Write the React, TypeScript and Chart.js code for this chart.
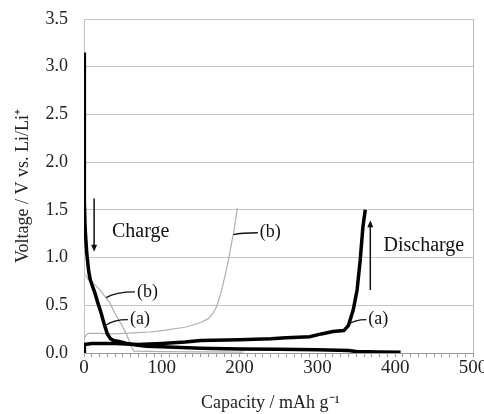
import React, { useEffect, useRef } from "react";
import { Chart, registerables } from "chart.js";
Chart.register(...registerables);

// ---- Data (capacity in mAh/g, voltage in V) ----
const chargeACap = [0, 0.3, 0.6, 1.5, 3.5, 6, 8, 10, 14, 18, 22, 26, 30, 34, 38, 45, 55, 65, 80, 100, 150, 200, 250, 300, 340, 350, 380, 407];
const chargeAV = [3.15, 2.0, 1.58, 1.3, 1.05, 0.86, 0.77, 0.72, 0.63, 0.52, 0.42, 0.3, 0.2, 0.15, 0.13, 0.12, 0.1, 0.085, 0.07, 0.065, 0.05, 0.042, 0.038, 0.033, 0.025, 0.015, 0.01, 0.008];

const dischargeACap = [0, 0.5, 10, 40, 70, 100, 130, 150, 200, 240, 260, 290, 305, 320, 334, 340, 346, 351, 355, 358.5, 361.5];
const dischargeAV = [0, 0.09, 0.1, 0.1, 0.09, 0.1, 0.115, 0.13, 0.14, 0.15, 0.16, 0.17, 0.2, 0.225, 0.235, 0.29, 0.45, 0.66, 0.97, 1.32, 1.5];

const chargeBCap = [2, 5.6, 10, 20.6, 29, 33.5, 42, 48, 55, 61, 64, 100, 150, 205];
const chargeBV = [0.82, 0.77, 0.75, 0.66, 0.57, 0.52, 0.38, 0.3, 0.19, 0.06, 0.02, 0.015, 0.012, 0.01];

const dischargeBCap = [0, 3, 6, 20, 40, 63, 85, 100, 130, 150, 160, 166, 170, 173, 176, 179, 183, 186, 189, 192, 195, 197];
const dischargeBV = [0.15, 0.19, 0.205, 0.205, 0.2, 0.21, 0.22, 0.235, 0.27, 0.32, 0.36, 0.42, 0.48, 0.55, 0.63, 0.73, 0.87, 0.99, 1.12, 1.25, 1.4, 1.52];

const xMin = 0, xMax = 500, xStep = 10, xLabelStep = 100;
const yMin = 0, yMax = 3.5, yStep = 0.5;

const xTitle = "Capacity / mAh g\u207B\u00B9";
const yTitle = "Voltage / V vs. Li/Li\u207A";

// annotation texts: [text, capacity, voltage]
const bigTexts = [
  { text: "Charge", cap: 36, v: 1.27 },
  { text: "Discharge", cap: 385, v: 1.12 },
];
const curveLabels = [
  { text: "(b)", cap: 226, v: 1.26, fromCap: 192, fromV: 1.24 },
  { text: "(b)", cap: 68, v: 0.64, fromCap: 28.5, fromV: 0.58 },
  { text: "(a)", cap: 59, v: 0.35, fromCap: 28, fromV: 0.29 },
  { text: "(a)", cap: 365.5, v: 0.35, fromCap: 338.5, fromV: 0.29 },
];
const arrows = [
  { cap: 13, v0: 1.62, v1: 1.06 },
  { cap: 368, v0: 0.66, v1: 1.39 },
];

const FONT = '"Liberation Serif", "Times New Roman", serif';

function pts(xs: number[], ys: number[]) {
  return xs.map((x, i) => ({ x, y: ys[i] }));
}

const annotPlugin = {
  id: "annot",
  afterDatasetsDraw(chart: any) {
    const { ctx, chartArea } = chart;
    const xs = chart.scales.x;
    const ys = chart.scales.y;
    ctx.save();
    // right border
    ctx.strokeStyle = "#bdbdbd";
    ctx.lineWidth = 1;
    ctx.beginPath();
    ctx.moveTo(Math.round(chartArea.right) + 0.5, chartArea.top);
    ctx.lineTo(Math.round(chartArea.right) + 0.5, chartArea.bottom);
    ctx.stroke();

    // x axis title
    ctx.fillStyle = "#222";
    ctx.font = `18px ${FONT}`;
    ctx.textAlign = "center";
    ctx.textBaseline = "middle";
    ctx.fillText(xTitle, (chartArea.left + chartArea.right) / 2 - 8, chart.height - 11);

    ctx.fillStyle = "#111";
    ctx.textBaseline = "middle";
    ctx.textAlign = "left";
    ctx.font = `20px ${FONT}`;
    for (const t of bigTexts) {
      ctx.fillText(t.text, xs.getPixelForValue(t.cap), ys.getPixelForValue(t.v));
    }
    ctx.font = `18px ${FONT}`;
    ctx.strokeStyle = "#111";
    ctx.lineWidth = 1.3;
    for (const l of curveLabels) {
      const tx = xs.getPixelForValue(l.cap);
      const ty = ys.getPixelForValue(l.v);
      const fx = xs.getPixelForValue(l.fromCap);
      const fy = ys.getPixelForValue(l.fromV);
      ctx.beginPath();
      ctx.moveTo(fx, fy);
      ctx.quadraticCurveTo(fx + (tx - fx) * 0.3, ty, tx - 2, ty);
      ctx.stroke();
      ctx.fillText(l.text, tx, ty);
    }
    // arrows
    ctx.lineWidth = 1.5;
    for (const a of arrows) {
      const x = xs.getPixelForValue(a.cap);
      const y0 = ys.getPixelForValue(a.v0);
      const y1 = ys.getPixelForValue(a.v1);
      const dir = y1 > y0 ? 1 : -1;
      ctx.beginPath();
      ctx.moveTo(x, y0);
      ctx.lineTo(x, y1 - dir * 5);
      ctx.stroke();
      ctx.beginPath();
      ctx.moveTo(x, y1);
      ctx.lineTo(x - 3, y1 - dir * 7);
      ctx.lineTo(x + 3, y1 - dir * 7);
      ctx.closePath();
      ctx.fill();
    }
    ctx.restore();
  },
};

export default function App() {
  const ref = useRef<HTMLCanvasElement>(null);
  useEffect(() => {
    if (!ref.current) return;
    const black = { borderColor: "#000", borderWidth: 3.5, pointRadius: 0, tension: 0, fill: false };
    const gray = { borderColor: "#b0b0b0", borderWidth: 1.2, pointRadius: 0, tension: 0, fill: false };
    const chart = new Chart(ref.current, {
      type: "line",
      data: {
        datasets: [
          { label: "charge a", data: pts(chargeACap, chargeAV), ...black },
          { label: "discharge a", data: pts(dischargeACap, dischargeAV), ...black },
          { label: "charge b", data: pts(chargeBCap, chargeBV), ...gray },
          { label: "discharge b", data: pts(dischargeBCap, dischargeBV), ...gray },
        ],
      },
      options: {
        animation: false,
        responsive: false,
        devicePixelRatio: 1,
        layout: { padding: { left: 0, top: 19, right: 11, bottom: 0 } },
        plugins: { legend: { display: false }, tooltip: { enabled: false } },
        scales: {
          x: {
            type: "linear",
            min: xMin,
            max: xMax,
            afterFit: (s: any) => {
              s.height = 61;
              s.paddingRight = 0;
              s.paddingLeft = 0;
            },
            ticks: {
              stepSize: xStep,
              autoSkip: false,
              maxRotation: 0,
              padding: 0,
              color: "#222",
              font: { family: FONT, size: 19 },
              callback: (v: any) => (Number(v) % xLabelStep === 0 ? String(v) : ""),
            },
            grid: { drawOnChartArea: false, drawTicks: true, tickLength: 4, color: "#9a9a9a" },
            border: { display: true, color: "#9a9a9a" },
            title: { display: false },
          },
          y: {
            type: "linear",
            min: yMin,
            max: yMax,
            afterFit: (s: any) => {
              s.width = 84;
              s.paddingTop = 0;
              s.paddingBottom = 0;
            },
            ticks: {
              stepSize: yStep,
              padding: 16,
              color: "#222",
              font: { family: FONT, size: 18 },
              callback: (v: any) => Number(v).toFixed(1),
            },
            grid: { drawTicks: false, color: "#c4c4c4" },
            border: { display: true, color: "#c4c4c4" },
            title: { display: true, text: yTitle, color: "#222", font: { family: FONT, size: 18 }, padding: { top: 12, bottom: 0 } },
          },
        },
      },
      plugins: [annotPlugin],
    } as any);
    return () => chart.destroy();
  }, []);
  return (
    <div style={{ position: "absolute", left: 0, top: 0, width: 484, height: 414, background: "#fff" }}>
      <canvas ref={ref} width={484} height={414} />
    </div>
  );
}
